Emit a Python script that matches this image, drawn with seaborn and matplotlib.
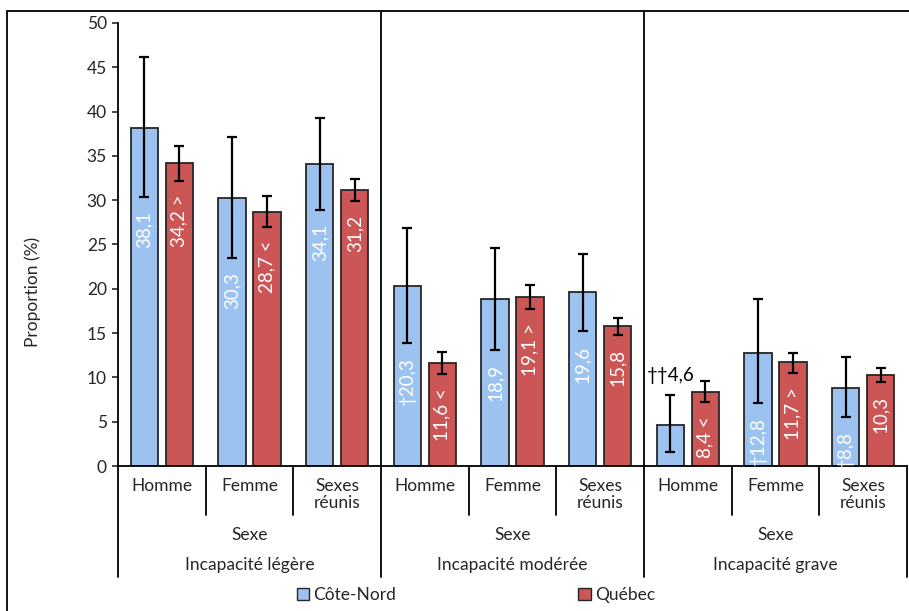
import matplotlib

matplotlib.use("Agg")
import matplotlib.pyplot as plt
import matplotlib.transforms as mtransforms
import pandas as pd
import seaborn as sns
from matplotlib.patches import Patch, Rectangle

# Data
levels = ["Incapacité légère", "Incapacité modérée", "Incapacité grave"]
sexes = ["Homme", "Femme", "Sexes\nréunis"]
regions = ["Côte-Nord", "Québec"]

cn_val = [38.1, 30.3, 34.1, 20.3, 18.9, 19.6, 4.6, 12.8, 8.8]
cn_low = [30.4, 23.5, 28.9, 13.9, 13.1, 15.2, 1.6, 7.1, 5.5]
cn_high = [46.2, 37.1, 39.3, 26.9, 24.6, 23.9, 8.0, 18.8, 12.3]
cn_flag = ["", "", "", "†", "", "", "††", "†", "†"]

qc_val = [34.2, 28.7, 31.2, 11.6, 19.1, 15.8, 8.4, 11.7, 10.3]
qc_low = [32.2, 27.0, 29.9, 10.4, 17.7, 14.8, 7.2, 10.5, 9.5]
qc_high = [36.1, 30.5, 32.4, 12.9, 20.4, 16.7, 9.6, 12.8, 11.1]
qc_sig = [">", "<", "", "<", ">", "", "<", ">", ""]

colors = {"Côte-Nord": "#9cc2f0", "Québec": "#cc5656"}

sns.set_style("white")
plt.rcParams["font.family"] = ["Lato", "DejaVu Sans"]

keys = [f"{lv}|{sx}" for lv in levels for sx in sexes]
df = pd.DataFrame(
    {
        "key": keys * 2,
        "region": ["Côte-Nord"] * 9 + ["Québec"] * 9,
        "value": cn_val + qc_val,
    }
)

fig = plt.figure(figsize=(9.09, 6.11), dpi=100)
ax = fig.add_axes([0.1298, 0.2373, 0.868, 0.7251])

sns.barplot(
    data=df,
    x="key",
    y="value",
    hue="region",
    order=keys,
    hue_order=regions,
    palette=colors,
    saturation=1,
    width=0.8,
    gap=0.22,
    edgecolor="#262626",
    linewidth=1.3,
    errorbar=None,
    legend=False,
    ax=ax,
    zorder=2,
)

ax.set_xlim(-0.5, 8.5)
ax.set_ylim(0, 50)
ax.set_yticks(range(0, 51, 5))
ax.tick_params(axis="y", direction="out", length=4, width=1.2, labelsize=12.5, pad=4, left=True)
ax.set_xticks([])
ax.set_xlabel("")
ax.set_ylabel("Proportion (%)", fontsize=12.5)
ax.yaxis.set_label_coords(-0.097, 0.393)
for s in ["top", "right"]:
    ax.spines[s].set_visible(False)
for s in ["left", "bottom"]:
    ax.spines[s].set_color("black")
    ax.spines[s].set_linewidth(1.3)

# error bars and value labels
series = [
    (cn_val, cn_low, cn_high, cn_flag, None),
    (qc_val, qc_low, qc_high, None, qc_sig),
]
for cont, (vals, lows, highs, flags, sigs) in zip(ax.containers, series):
    xs = [b.get_x() + b.get_width() / 2 for b in cont]
    yerr = [[v - lo for v, lo in zip(vals, lows)], [hi - v for v, hi in zip(vals, highs)]]
    ax.errorbar(xs, vals, yerr=yerr, fmt="none", ecolor="black",
                elinewidth=1.6, capsize=3.5, capthick=1.6, zorder=3)
    for i, (x, v, lo, hi) in enumerate(zip(xs, vals, lows, highs)):
        txt = f"{v:.1f}".replace(".", ",")
        if flags:
            txt = flags[i] + txt
        if sigs and sigs[i]:
            txt = f"{txt} {sigs[i]}"
        if lo < 3:
            ax.text(x, hi + 1.3, txt, ha="center", va="bottom", fontsize=13.5,
                    color="black", zorder=4)
        else:
            ax.text(x, lo - 1.6, txt, ha="center", va="top", rotation=90,
                    fontsize=13.5, color="white", zorder=4)

# multi-level category axis
trans = mtransforms.blended_transform_factory(ax.transData, ax.transAxes)
for i, key in enumerate(keys):
    ax.text(i, -0.026, key.split("|")[1], transform=trans, ha="center", va="top",
            fontsize=12.5, linespacing=1.1)
for g, lv in enumerate(levels):
    ax.text(3 * g + 1, -0.156, "Sexe", transform=trans, ha="center", va="center", fontsize=12.5)
    ax.text(3 * g + 1, -0.2235, lv, transform=trans, ha="center", va="center", fontsize=12.5)

for xb in [0.5, 1.5, 3.5, 4.5, 6.5, 7.5]:
    ax.plot([xb, xb], [0, -0.1106], transform=trans, color="black", lw=1.3, clip_on=False)
for xb in [-0.5, 2.5, 5.5, 8.5]:
    ax.plot([xb, xb], [0, -0.2506], transform=trans, color="black", lw=1.3, clip_on=False)
for xb in [2.5, 5.5]:
    ax.plot([xb, xb], [0, 1.025], transform=trans, color="black", lw=1.3, clip_on=False)

handles = [Patch(facecolor=colors[r], edgecolor="#262626", linewidth=1, label=r) for r in regions]
ax.legend(handles=handles, loc="center", bbox_to_anchor=(0.4537, -0.291), ncol=2,
          frameon=False, fontsize=12.5, handlelength=0.7, handleheight=0.7,
          handletextpad=0.25, columnspacing=10.5)

# outer chart frame (only left and top edges are visible)
fig.patches.append(Rectangle((7 / 909, -0.2), 2, 0.2 + (611 - 11) / 611, transform=fig.transFigure,
                             fill=False, edgecolor="black", lw=1.3, zorder=0))

fig.savefig("out.png", dpi=100)
